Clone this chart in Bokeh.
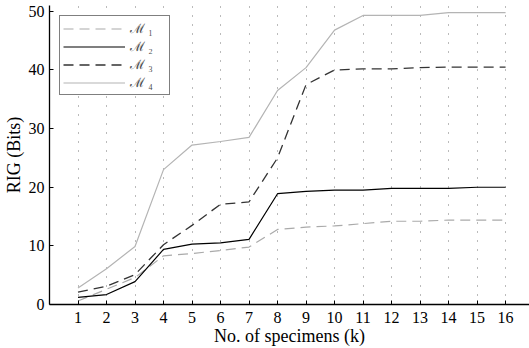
from bokeh.plotting import figure
from bokeh.models import Range1d, FixedTicker, Legend, LegendItem
from bokeh.embed import file_html
from bokeh.resources import INLINE

k = list(range(1, 17))
m1 = [0.6, 2.6, 4.6, 8.3, 8.7, 9.2, 9.8, 12.8, 13.2, 13.4, 13.8, 14.2, 14.2, 14.4, 14.4, 14.4]
m2 = [1.2, 1.7, 3.9, 9.4, 10.3, 10.5, 11.1, 18.9, 19.3, 19.5, 19.5, 19.8, 19.8, 19.8, 20.0, 20.0]
m3 = [2.1, 3.1, 5.1, 10.2, 13.5, 17.1, 17.5, 25.0, 37.5, 40.0, 40.2, 40.2, 40.4, 40.5, 40.5, 40.5]
m4 = [2.8, 6.1, 9.9, 23.0, 27.2, 27.8, 28.5, 36.5, 40.4, 46.8, 49.3, 49.3, 49.3, 49.8, 49.8, 49.8]
labels = ["\u2133 \u2081", "\u2133 \u2082", "\u2133 \u2083", "\u2133 \u2084"]
y_ticks = [0, 10, 20, 30, 40, 50]

FONT = "Liberation Serif"

p = figure(width=529, height=348, output_backend="svg", toolbar_location=None,
           x_range=Range1d(0, 16.84), y_range=Range1d(0, 51.0),
           min_border_left=49, min_border_right=0, min_border_top=5, min_border_bottom=44)
p.outline_line_color = None
p.background_fill_color = "white"

for ax in (p.xaxis[0], p.yaxis[0]):
    ax.major_tick_in = 4
    ax.major_tick_out = 0
    ax.minor_tick_in = 0
    ax.minor_tick_out = 0
    ax.axis_line_color = "black"
    ax.axis_line_width = 1.3
    ax.major_tick_line_color = "black"
    ax.major_label_text_font = FONT
    ax.major_label_text_font_size = "16px"
    ax.major_label_text_color = "black"
    ax.axis_label_text_font = FONT
    ax.axis_label_text_font_size = "18px"
    ax.axis_label_text_font_style = "normal"
    ax.axis_label_text_color = "black"

p.xaxis.ticker = FixedTicker(ticks=k)
p.yaxis.ticker = FixedTicker(ticks=y_ticks)
p.xaxis.axis_label = "No. of specimens (k)"
p.yaxis.axis_label = "RIG (Bits)"
p.xaxis.major_label_standoff = 7
p.yaxis.major_label_standoff = 5
p.xaxis.axis_label_standoff = 0
p.yaxis.axis_label_standoff = 2

p.ygrid.grid_line_color = None
p.xgrid.grid_line_color = "#777777"
p.xgrid.grid_line_dash = "1 8"
p.xgrid.grid_line_width = 1

r1 = p.line(k, m1, line_color="#aaaaaa", line_width=1.2, line_dash="10 6")
r2 = p.line(k, m2, line_color="black", line_width=1.2)
r3 = p.line(k, m3, line_color="#333333", line_width=1.3, line_dash="10 6")
r4 = p.line(k, m4, line_color="#b4b4b4", line_width=1.2)

legend = Legend(items=[LegendItem(label=labels[i], renderers=[r]) for i, r in enumerate([r1, r2, r3, r4])],
                location="top_left")
legend.margin = 10
legend.padding = 3
legend.spacing = 0
legend.glyph_width = 62
legend.glyph_height = 15
legend.label_height = 15
legend.label_width = 36
legend.label_standoff = 5
legend.label_text_font = FONT
legend.label_text_font_size = "13px"
legend.border_line_color = "black"
legend.border_line_width = 1.2
legend.background_fill_alpha = 1.0
p.add_layout(legend)

open("out.html", "w").write(file_html(p, INLINE))
